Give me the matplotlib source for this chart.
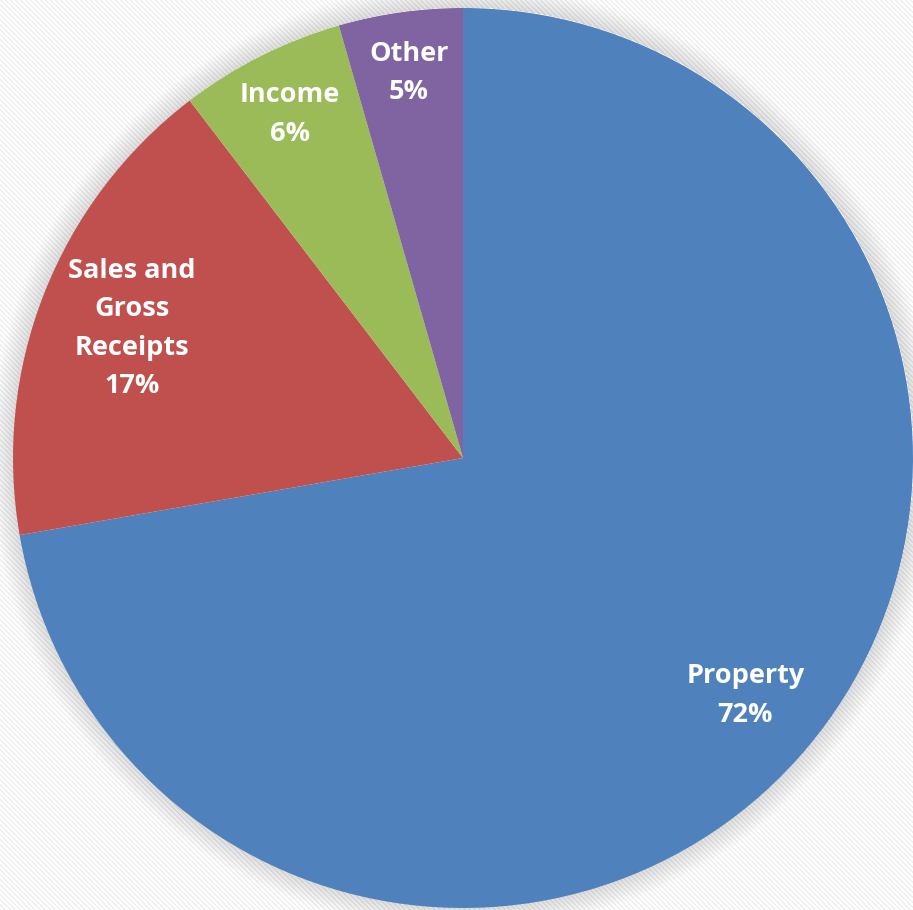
import numpy as np
import matplotlib
matplotlib.use("Agg")
import matplotlib.pyplot as plt

categories = ["Property", "Sales and\nGross\nReceipts", "Income", "Other"]
values = [72.26, 17.35, 5.94, 4.45]
pct_labels = ["72%", "17%", "6%", "5%"]
colors = ["#4F81BD", "#C0504D", "#9BBB59", "#8064A2"]
label_r = [0.82, 0.79, 0.855, 0.864]

W, H = 913, 910
cx, cy, R = 463, 452, 450

fig = plt.figure(figsize=(W / 100, H / 100), dpi=100)
ax = fig.add_axes([0, 0, 1, 1])
ax.set_xlim(0, W)
ax.set_ylim(0, H)
ax.set_aspect("equal")
ax.axis("off")

# background: faint diagonal stripes + soft shadow around the pie
yy, xx = np.mgrid[0:H, 0:W]
stripes = ((xx - yy) % 5) < 2
bg = np.where(stripes, 0.94, 1.0)
d = np.hypot(xx - cx, (H - 1 - yy) - cy)
shade = np.clip(1 - (d - R) / 24.0, 0, 1) * 0.13
shade[d < R] = 0
bg = bg - shade
img = np.dstack([bg, bg, bg])
ax.imshow(img, extent=(0, W, 0, H), origin="upper", zorder=0, interpolation="nearest")

wedges, _ = ax.pie(values, colors=colors, startangle=90, counterclock=False,
                   center=(cx, cy), radius=R, frame=True,
                   wedgeprops=dict(linewidth=0))
for w in wedges:
    w.set_zorder(2)

for w, name, pct, lr in zip(wedges, categories, pct_labels, label_r):
    ang = np.deg2rad((w.theta1 + w.theta2) / 2)
    x = cx + lr * R * np.cos(ang)
    y = cy + lr * R * np.sin(ang)
    ax.text(x, y, f"{name}\n{pct}", ha="center", va="center", color="white",
            fontsize=19.5, fontweight="bold", family="Open Sans", linespacing=1.62, zorder=3)

ax.set_xlim(0, W)
ax.set_ylim(0, H)
ax.axis("off")
fig.savefig("out.png", dpi=100)
